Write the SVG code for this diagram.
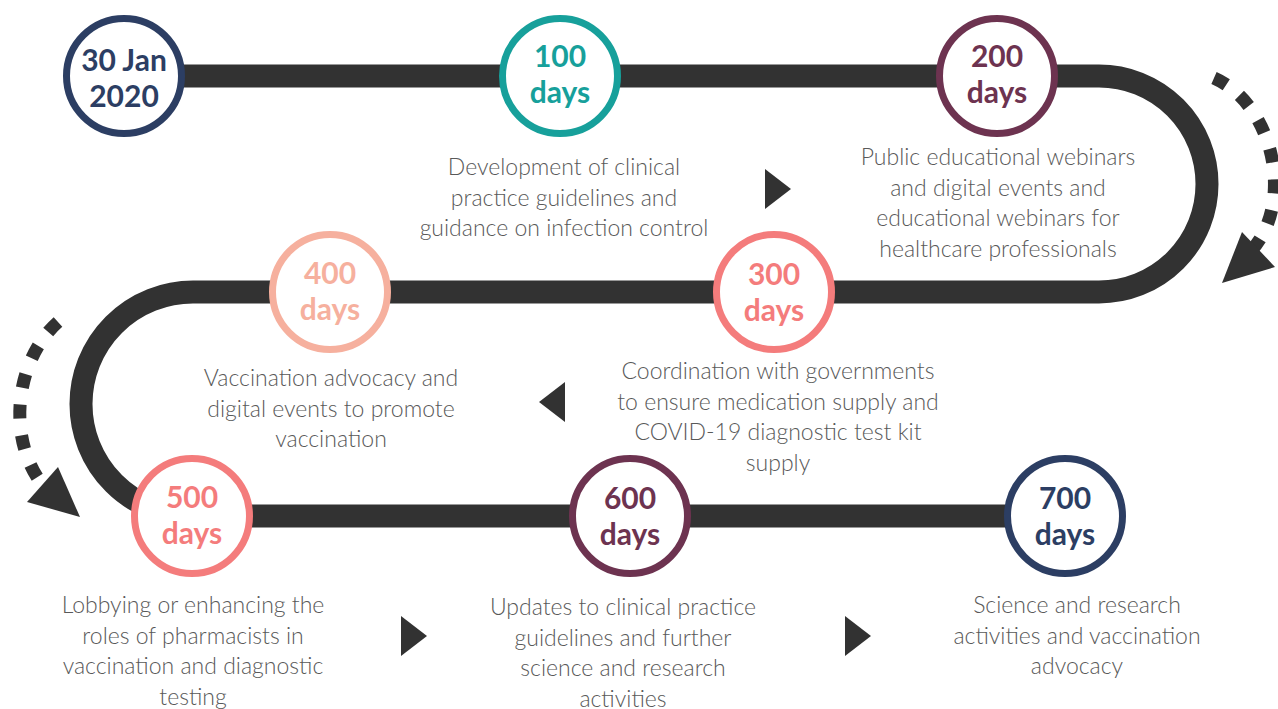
<svg xmlns="http://www.w3.org/2000/svg" width="1278" height="709" viewBox="0 0 1278 709">
<defs>
<style>
.track{fill:none;stroke:#323232;stroke-width:23}
.dash{fill:none;stroke:#323232;stroke-width:13;stroke-dasharray:14 17}
.tri{fill:#323232}
.ring{fill:#fff;stroke-width:7}
.lbl{font-family:Lato,"Open Sans",sans-serif;font-weight:700;font-size:30px;text-anchor:middle}
.desc{font-family:Lato,"Open Sans",sans-serif;font-weight:300;font-size:23px;fill:#595959;text-anchor:middle}
</style>
</defs>
<rect width="1278" height="709" fill="#fff"/>
<g id="connectors">
<path class="track" d="M124,76 H1099 A108,108 0 0 1 1099,292 H193 A112,112 0 0 0 193,516 H1065"/>
<path class="dash" d="M1214,78 C1275,105 1295,205 1250,252"/>
<polygon class="tri" points="1222,283 1242,232 1275,267"/>
<path class="dash" d="M58,322 C15,360 5,440 45,488"/>
<polygon class="tri" points="80,517 58,467 27,502"/>
<polygon class="tri" points="765,169 791,189 765,209"/>
<polygon class="tri" points="565,382 539,402 565,422"/>
<polygon class="tri" points="401,616 427,636 401,656"/>
<polygon class="tri" points="845,616 871,636 845,656"/>
</g>
<g id="n0">
<circle class="ring" cx="124" cy="76" r="57.5" stroke="#2C3E63"/>
<text class="lbl" fill="#2C3E63"><tspan x="124" y="71">30 Jan</tspan><tspan x="124" y="107">2020</tspan></text>
</g>
<g id="n100">
<circle class="ring" cx="560" cy="76" r="57.5" stroke="#17A09B"/>
<text class="lbl" fill="#17A09B"><tspan x="560" y="67">100</tspan><tspan x="560" y="103">days</tspan></text>
<text class="desc"><tspan x="564" y="175">Development of clinical</tspan><tspan x="564" y="205.5">practice guidelines and</tspan><tspan x="564" y="236">guidance on infection control</tspan></text>
</g>
<g id="n200">
<circle class="ring" cx="997" cy="76" r="57.5" stroke="#6D3350"/>
<text class="lbl" fill="#6D3350"><tspan x="997" y="67">200</tspan><tspan x="997" y="103">days</tspan></text>
<text class="desc"><tspan x="998" y="165">Public educational webinars</tspan><tspan x="998" y="195.5">and digital events and</tspan><tspan x="998" y="226">educational webinars for</tspan><tspan x="998" y="256.5">healthcare professionals</tspan></text>
</g>
<g id="n300">
<circle class="ring" cx="774" cy="292" r="57.5" stroke="#F47C7C"/>
<text class="lbl" fill="#F47C7C"><tspan x="774" y="285">300</tspan><tspan x="774" y="321">days</tspan></text>
<text class="desc"><tspan x="778" y="379">Coordination with governments</tspan><tspan x="778" y="409.5">to ensure medication supply and</tspan><tspan x="778" y="440">COVID-19 diagnostic test kit</tspan><tspan x="778" y="470.5">supply</tspan></text>
</g>
<g id="n400">
<circle class="ring" cx="330" cy="292" r="57.5" stroke="#F6B09E"/>
<text class="lbl" fill="#F6B09E"><tspan x="330" y="284">400</tspan><tspan x="330" y="320">days</tspan></text>
<text class="desc"><tspan x="331" y="386">Vaccination advocacy and</tspan><tspan x="331" y="416.5">digital events to promote</tspan><tspan x="331" y="447">vaccination</tspan></text>
</g>
<g id="n500">
<circle class="ring" cx="192" cy="516" r="57.5" stroke="#F47C7C"/>
<text class="lbl" fill="#F47C7C"><tspan x="192" y="508">500</tspan><tspan x="192" y="544">days</tspan></text>
<text class="desc"><tspan x="193" y="613">Lobbying or enhancing the</tspan><tspan x="193" y="643.5">roles of pharmacists in</tspan><tspan x="193" y="674">vaccination and diagnostic</tspan><tspan x="193" y="704.5">testing</tspan></text>
</g>
<g id="n600">
<circle class="ring" cx="630" cy="516" r="57.5" stroke="#6D3350"/>
<text class="lbl" fill="#6D3350"><tspan x="630" y="509">600</tspan><tspan x="630" y="545">days</tspan></text>
<text class="desc"><tspan x="623" y="615">Updates to clinical practice</tspan><tspan x="623" y="645.5">guidelines and further</tspan><tspan x="623" y="676">science and research</tspan><tspan x="623" y="706.5">activities</tspan></text>
</g>
<g id="n700">
<circle class="ring" cx="1065" cy="516" r="57.5" stroke="#2C3E63"/>
<text class="lbl" fill="#2C3E63"><tspan x="1065" y="509">700</tspan><tspan x="1065" y="545">days</tspan></text>
<text class="desc"><tspan x="1077" y="613">Science and research</tspan><tspan x="1077" y="643.5">activities and vaccination</tspan><tspan x="1077" y="674">advocacy</tspan></text>
</g>
</svg>
